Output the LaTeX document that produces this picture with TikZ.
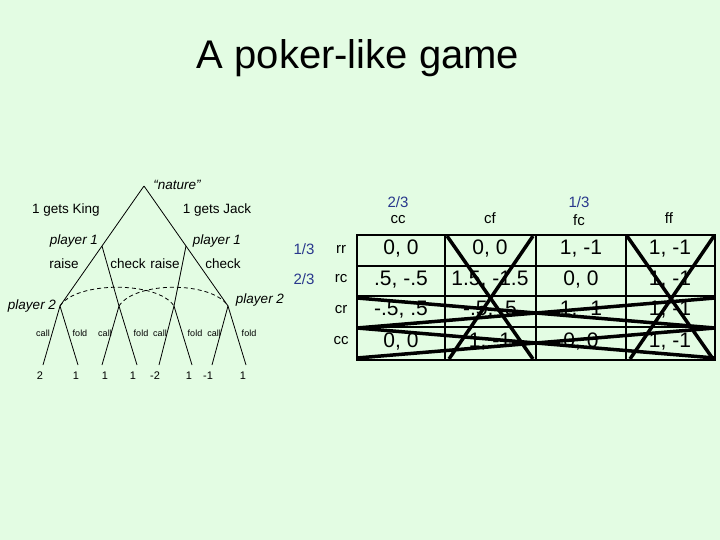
\documentclass[tikz,border=0pt]{standalone}
\usepackage{fontspec}
\setmainfont{Liberation Sans}
\definecolor{bg}{RGB}{227,252,227}
\definecolor{probblue}{RGB}{40,55,140}
\begin{document}
\begin{tikzpicture}[x=1pt,y=-1pt,
  edge/.style={line width=0.8pt},
  infoset/.style={line width=0.8pt,dash pattern=on 4pt off 3pt},
  lbl/.style={inner sep=0pt,font=\fontsize{13.5}{16}\selectfont},
  ilbl/.style={inner sep=0pt,font=\fontsize{13.5}{16}\selectfont\itshape},
  tiny/.style={inner sep=0pt,font=\fontsize{9}{10}\selectfont},
  leaflbl/.style={inner sep=0pt,font=\fontsize{11}{12}\selectfont},
  hdr/.style={inner sep=0pt,font=\fontsize{15}{17}\selectfont},
  prob/.style={inner sep=0pt,font=\fontsize{15}{17}\selectfont,text=probblue},
  cell/.style={inner sep=0pt,font=\fontsize{21}{24}\selectfont},
  gridout/.style={line width=2.8pt},
  gridin/.style={line width=1.8pt},
  cross/.style={line width=3.5pt}]
\fill[bg] (0,0) rectangle (720,540);
\useasboundingbox (0,0) rectangle (720,540);

% title
\node[inner sep=0pt,font=\fontsize{40}{48}\selectfont] (title) at (358,58) {A poker-like game};

% tree points
\coordinate (root) at (144,186);
\coordinate (p1L) at (102,246);
\coordinate (p1R) at (186,246);
\coordinate (p2a) at (60,306);
\coordinate (p2b) at (119,306);
\coordinate (p2c) at (174,306);
\coordinate (p2d) at (228,306);
\coordinate (l1) at (43,365);
\coordinate (l2) at (78,365);
\coordinate (l3) at (102,365);
\coordinate (l4) at (137,365);
\coordinate (l5) at (159,365);
\coordinate (l6) at (192,365);
\coordinate (l7) at (212,365);
\coordinate (l8) at (246,365);

\draw[edge] (root) -- (p1L);
\draw[edge] (root) -- (p1R);
\draw[edge] (p1L) -- (p2a);
\draw[edge] (p1L) -- (p2b);
\draw[edge] (p1R) -- (p2c);
\draw[edge] (p1R) -- (p2d);
\draw[edge] (p2a) -- (l1);
\draw[edge] (p2a) -- (l2);
\draw[edge] (p2b) -- (l3);
\draw[edge] (p2b) -- (l4);
\draw[edge] (p2c) -- (l5);
\draw[edge] (p2c) -- (l6);
\draw[edge] (p2d) -- (l7);
\draw[edge] (p2d) -- (l8);

\draw[infoset] (p2a) .. controls (76,281) and (158,281) .. (p2c);
\draw[infoset] (p2b) .. controls (135,281) and (212,281) .. (p2d);

% tree labels
\node[ilbl] (nat) at (177,185) {“nature”};
\node[lbl] (king) at (66,210) {1 gets King};
\node[lbl] (jack) at (217,210) {1 gets Jack};
\node[ilbl] (pl1a) at (74,241) {player 1};
\node[ilbl] (pl1b) at (217,241) {player 1};
\node[lbl] (ra1) at (64,264) {raise};
\node[lbl] (ch1) at (128,264) {check};
\node[lbl] (ra2) at (165,264) {raise};
\node[lbl] (ch2) at (223,264) {check};
\node[ilbl] (pl2a) at (32,306) {player 2};
\node[ilbl] (pl2b) at (260,300) {player 2};

\node[tiny] (c1) at (43,333) {call};
\node[tiny] (f1) at (80,333) {fold};
\node[tiny] (c2) at (105,333) {call};
\node[tiny] (f2) at (141,333) {fold};
\node[tiny] (c3) at (160,333) {call};
\node[tiny] (f3) at (195,333) {fold};
\node[tiny] (c4) at (214,333) {call};
\node[tiny] (f4) at (249,333) {fold};

\node[leaflbl] (v1) at (40,376) {2};
\node[leaflbl] (v2) at (76,376) {1};
\node[leaflbl] (v3) at (105,376) {1};
\node[leaflbl] (v4) at (133,376) {1};
\node[leaflbl] (v5) at (155,376) {-2};
\node[leaflbl] (v6) at (189,376) {1};
\node[leaflbl] (v7) at (208,376) {-1};
\node[leaflbl] (v8) at (243,376) {1};

% table headers
\node[prob] (pc1) at (398,202) {2/3};
\node[hdr] (hc1) at (398,220) {cc};
\node[hdr] (hc2) at (490,218) {cf};
\node[prob] (pc3) at (579,202) {1/3};
\node[hdr] (hc3) at (579,220) {fc};
\node[hdr] (hc4) at (669,218) {ff};

\node[prob] (pr1) at (304,249) {1/3};
\node[hdr] (hr1) at (341,249) {rr};
\node[prob] (pr2) at (304,279) {2/3};
\node[hdr] (hr2) at (341,279) {rc};
\node[hdr] (hr3) at (341,310) {cr};
\node[hdr] (hr4) at (341,341) {cc};

% cells
\node[cell] at (401,249) {0, 0};
\node[cell] at (490,249) {0, 0};
\node[cell] at (581,249) {1, -1};
\node[cell] at (670,249) {1, -1};
\node[cell] at (401,280) {.5, -.5};
\node[cell] at (490,280) {1.5, -1.5};
\node[cell] at (581,280) {0, 0};
\node[cell] at (670,280) {1, -1};
\node[cell] at (401,310) {-.5, .5};
\node[cell] at (490,310) {-.5, .5};
\node[cell] at (581,310) {1, -1};
\node[cell] at (670,310) {1, -1};
\node[cell] at (401,342) {0, 0};
\node[cell] at (490,342) {1, -1};
\node[cell] at (581,342) {0, 0};
\node[cell] at (670,342) {1, -1};

% grid
\draw[gridin] (445,235) -- (445,360);
\draw[gridin] (536,235) -- (536,360);
\draw[gridin] (626,235) -- (626,360);
\draw[gridin] (357,266) -- (715,266);
\draw[gridin] (357,296) -- (715,296);
\draw[gridin] (357,327) -- (715,327);
\draw[gridout] (357,235) rectangle (715,360);

% crossings
\draw[cross] (447,236) -- (533,359);
\draw[cross] (533,236) -- (449,359);
\draw[cross] (627,236) -- (713,359);
\draw[cross] (714,236) -- (630,359);
\draw[cross] (357,298) -- (715,328);
\draw[cross] (357,328) -- (715,298);
\draw[cross] (357,328) -- (715,358);
\draw[cross] (357,358) -- (715,328);
\end{tikzpicture}
\end{document}
